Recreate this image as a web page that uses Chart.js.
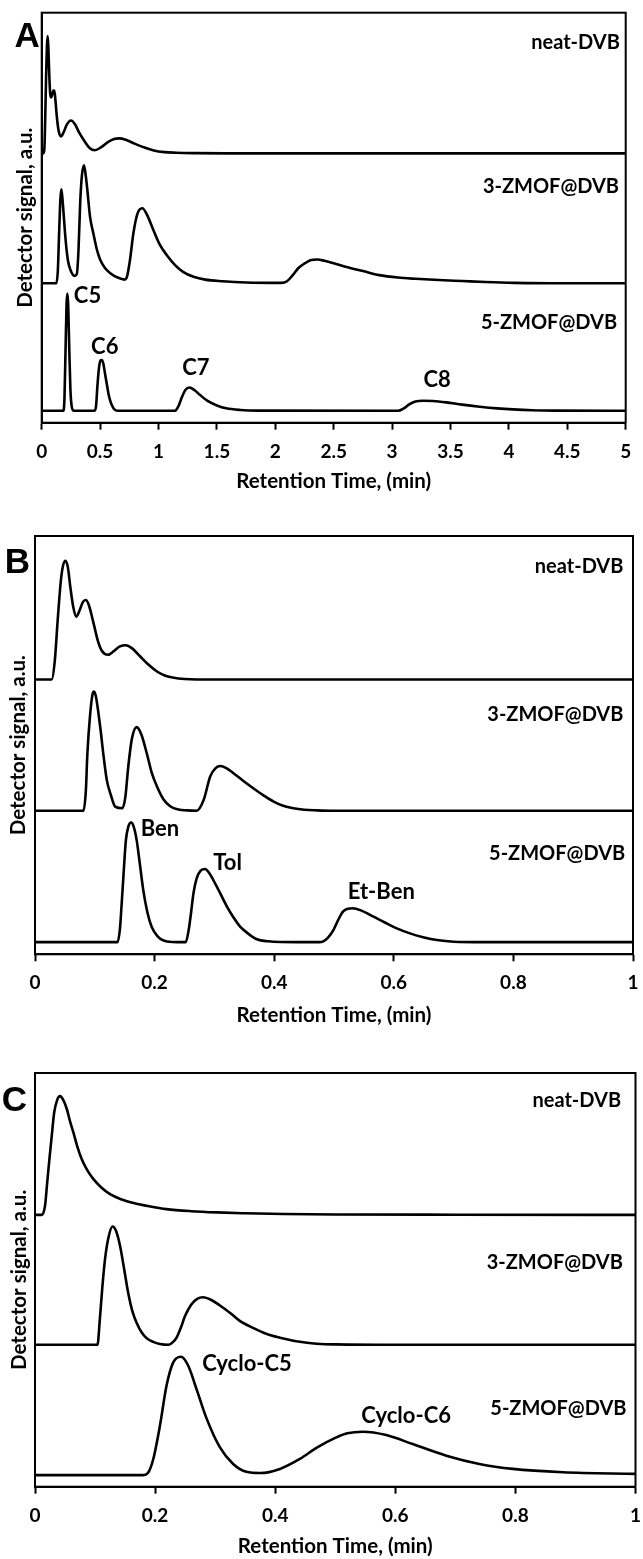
<!DOCTYPE html>
<html><head><meta charset="utf-8">
<script src="https://cdn.jsdelivr.net/npm/chart.js@4.4.1/dist/chart.umd.min.js"></script>
<style>
html,body{margin:0;padding:0;background:#fff;}
body{width:643px;height:1559px;position:relative;overflow:hidden;}
canvas{position:absolute;left:0;}
</style></head><body>
<canvas id="cA" width="643" height="520" style="top:0px;width:643px;height:520px"></canvas>
<canvas id="cB" width="643" height="520" style="top:520px;width:643px;height:520px"></canvas>
<canvas id="cC" width="643" height="519" style="top:1040px;width:643px;height:519px"></canvas>
<script>
// ---------- DATA (y in stacked arbitrary units, axis 0..10) ----------
const seriesNames = ['neat-DVB', '3-ZMOF@DVB', '5-ZMOF@DVB'];

// Panel A: n-alkanes, 0-5 min
const aTicks = [0, 0.5, 1, 1.5, 2, 2.5, 3, 3.5, 4, 4.5, 5];
const aTickLabels = ['0', '0.5', '1', '1.5', '2', '2.5', '3', '3.5', '4', '4.5', '5'];
const aPeakNames = ['C5', 'C6', 'C7', 'C8'];
const aNeatTime = [0, 0.012, 0.022, 0.03, 0.038, 0.045, 0.051, 0.057, 0.064, 0.072, 0.08, 0.09, 0.1, 0.108, 0.118, 0.13, 0.145, 0.165, 0.19, 0.215, 0.25, 0.285, 0.32, 0.37, 0.41, 0.455, 0.51, 0.57, 0.62, 0.665, 0.72, 0.8, 0.88, 0.96, 1.05, 1.15, 1.3, 1.6, 2.5, 5];
const aNeatSignal = [6.57, 6.57, 6.65, 7.4, 8.5, 9.2, 9.43, 9.15, 8.55, 8.05, 7.93, 8.0, 8.1, 8.1, 7.85, 7.45, 7.12, 6.98, 7.1, 7.27, 7.37, 7.28, 7.08, 6.85, 6.7, 6.645, 6.72, 6.85, 6.92, 6.935, 6.9, 6.8, 6.71, 6.64, 6.6, 6.585, 6.575, 6.57, 6.57, 6.57];
const a3Time = [0, 0.125, 0.138, 0.15, 0.16, 0.168, 0.178, 0.19, 0.205, 0.225, 0.25, 0.28, 0.3, 0.315, 0.33, 0.345, 0.362, 0.376, 0.39, 0.414, 0.442, 0.47, 0.5, 0.54, 0.59, 0.65, 0.71, 0.73, 0.755, 0.785, 0.82, 0.862, 0.9, 0.956, 1.01, 1.07, 1.14, 1.21, 1.3, 1.4, 1.55, 1.75, 2.05, 2.1, 2.155, 2.2, 2.255, 2.3, 2.36, 2.42, 2.5, 2.61, 2.75, 2.89, 3.05, 3.2, 3.4, 3.6, 3.8, 4.05, 4.5, 5];
const a3Signal = [3.40, 3.40, 3.7, 4.7, 5.45, 5.69, 5.45, 5.0, 4.45, 3.95, 3.7, 3.58, 3.62, 4.2, 5.4, 6.05, 6.28, 6.05, 5.7, 5.02, 4.62, 4.25, 3.98, 3.78, 3.64, 3.54, 3.49, 3.56, 3.95, 4.62, 5.1, 5.23, 5.08, 4.70, 4.35, 4.09, 3.85, 3.68, 3.56, 3.49, 3.45, 3.42, 3.41, 3.45, 3.62, 3.78, 3.89, 3.96, 3.98, 3.95, 3.89, 3.80, 3.70, 3.60, 3.54, 3.51, 3.48, 3.455, 3.43, 3.41, 3.40, 3.40];
const a5Time = [0, 0.185, 0.195, 0.205, 0.213, 0.22, 0.227, 0.236, 0.246, 0.258, 0.275, 0.45, 0.465, 0.477, 0.491, 0.504, 0.514, 0.527, 0.542, 0.557, 0.571, 0.585, 0.6, 0.62, 0.65, 1.14, 1.17, 1.2, 1.23, 1.264, 1.31, 1.356, 1.42, 1.5, 1.58, 1.7, 1.85, 3.05, 3.1, 3.15, 3.2, 3.265, 3.35, 3.464, 3.6, 3.75, 3.9, 4.035, 4.2, 4.4, 5];
const a5Signal = [0.29, 0.29, 0.6, 1.9, 2.9, 3.15, 2.85, 1.8, 0.8, 0.38, 0.29, 0.29, 0.4, 0.9, 1.35, 1.52, 1.53, 1.45, 1.2, 0.95, 0.72, 0.55, 0.43, 0.33, 0.29, 0.29, 0.4, 0.62, 0.8, 0.86, 0.79, 0.675, 0.53, 0.42, 0.35, 0.31, 0.295, 0.29, 0.35, 0.455, 0.52, 0.537, 0.53, 0.496, 0.44, 0.39, 0.35, 0.325, 0.305, 0.295, 0.29];

// Panel B: aromatics, 0-1 min
const bTicks = [0, 0.2, 0.4, 0.6, 0.8, 1];
const bTickLabels = ['0', '0.2', '0.4', '0.6', '0.8', '1'];
const bPeakNames = ['Ben', 'Tol', 'Et-Ben'];
const bNeatTime = [0, 0.028, 0.033, 0.038, 0.043, 0.047, 0.051, 0.055, 0.059, 0.064, 0.069, 0.074, 0.08, 0.085, 0.09, 0.098, 0.105, 0.112, 0.122, 0.132, 0.142, 0.152, 0.162, 0.176, 0.19, 0.204, 0.218, 0.232, 0.25, 0.27, 1];
const bNeatSignal = [6.57, 6.57, 7.0, 8.0, 8.9, 9.3, 9.41, 9.25, 8.79, 8.3, 8.07, 8.2, 8.42, 8.47, 8.35, 7.91, 7.5, 7.25, 7.16, 7.25, 7.36, 7.39, 7.32, 7.12, 6.92, 6.76, 6.66, 6.61, 6.58, 6.57, 6.57];
const b3Time = [0, 0.081, 0.085, 0.0876, 0.092, 0.096, 0.0987, 0.102, 0.109, 0.115, 0.12, 0.127, 0.134, 0.146, 0.151, 0.156, 0.162, 0.17, 0.178, 0.187, 0.195, 0.204, 0.215, 0.226, 0.24, 0.254, 0.27, 0.282, 0.293, 0.302, 0.31, 0.32, 0.332, 0.348, 0.365, 0.382, 0.399, 0.415, 0.432, 0.45, 0.471, 0.5, 1];
const b3Signal = [3.43, 3.43, 3.9, 4.8, 5.7, 6.2, 6.28, 6.15, 5.44, 4.7, 4.17, 3.8, 3.53, 3.49, 3.75, 4.49, 5.15, 5.43, 5.25, 4.80, 4.35, 4.01, 3.7, 3.54, 3.46, 3.44, 3.43, 3.69, 4.25, 4.45, 4.50, 4.45, 4.33, 4.15, 3.97, 3.8, 3.65, 3.55, 3.49, 3.455, 3.44, 3.43, 3.43];
const b5Time = [0, 0.138, 0.142, 0.145, 0.148, 0.152, 0.156, 0.161, 0.165, 0.17, 0.175, 0.181, 0.188, 0.195, 0.205, 0.215, 0.23, 0.252, 0.257, 0.261, 0.265, 0.27, 0.277, 0.2845, 0.291, 0.298, 0.31, 0.321, 0.332, 0.343, 0.356, 0.371, 0.39, 0.41, 0.475, 0.482, 0.49, 0.499, 0.507, 0.515, 0.523, 0.531, 0.545, 0.566, 0.585, 0.605, 0.627, 0.649, 0.672, 0.7, 0.75, 1];
const b5Signal = [0.29, 0.29, 0.6, 1.22, 1.9, 2.73, 3.05, 3.15, 3.05, 2.73, 2.2, 1.54, 1.0, 0.66, 0.43, 0.33, 0.295, 0.29, 0.58, 1.0, 1.46, 1.8, 2.0, 2.04, 1.95, 1.78, 1.45, 1.14, 0.88, 0.66, 0.5, 0.36, 0.31, 0.295, 0.29, 0.31, 0.4, 0.58, 0.82, 1.02, 1.09, 1.10, 1.05, 0.90, 0.76, 0.62, 0.50, 0.41, 0.34, 0.30, 0.29, 0.29];

// Panel C: cycloalkanes, 0-1 min
const cTicks = [0, 0.2, 0.4, 0.6, 0.8, 1];
const cTickLabels = ['0', '0.2', '0.4', '0.6', '0.8', '1'];
const cPeakNames = ['Cyclo-C5', 'Cyclo-C6'];
const cNeatTime = [0, 0.011, 0.0167, 0.02, 0.024, 0.028, 0.032, 0.037, 0.0416, 0.047, 0.053, 0.058, 0.0638, 0.0705, 0.0777, 0.087, 0.097, 0.11, 0.125, 0.143, 0.164, 0.19, 0.219, 0.26, 0.303, 0.35, 0.414, 0.5, 0.7, 1];
const cNeatSignal = [6.57, 6.57, 6.79, 7.3, 7.92, 8.5, 9.05, 9.35, 9.44, 9.35, 9.13, 8.85, 8.57, 8.22, 7.92, 7.65, 7.44, 7.24, 7.07, 6.95, 6.86, 6.78, 6.71, 6.66, 6.63, 6.61, 6.59, 6.58, 6.575, 6.57];
const c3Time = [0, 0.104, 0.108, 0.112, 0.1166, 0.122, 0.129, 0.135, 0.1415, 0.148, 0.155, 0.162, 0.169, 0.178, 0.186, 0.197, 0.208, 0.222, 0.23, 0.236, 0.243, 0.25, 0.26, 0.27, 0.28, 0.293, 0.308, 0.325, 0.341, 0.363, 0.386, 0.408, 0.43, 0.453, 0.475, 0.5, 0.6, 1];
const c3Signal = [3.43, 3.43, 4.05, 4.8, 5.5, 6.0, 6.29, 6.18, 5.83, 5.3, 4.7, 4.25, 3.97, 3.72, 3.59, 3.5, 3.45, 3.43, 3.5, 3.61, 3.85, 4.13, 4.4, 4.54, 4.58, 4.52, 4.38, 4.2, 4.01, 3.84, 3.69, 3.6, 3.53, 3.48, 3.45, 3.44, 3.43, 3.43];
const c5Time = [0, 0.18, 0.188, 0.197, 0.208, 0.219, 0.23, 0.243, 0.255, 0.269, 0.286, 0.308, 0.33, 0.352, 0.375, 0.408, 0.441, 0.47, 0.5, 0.52, 0.546, 0.585, 0.629, 0.685, 0.74, 0.796, 0.879, 1];
const c5Signal = [0.28, 0.28, 0.33, 0.67, 1.47, 2.44, 3.0, 3.14, 2.93, 2.36, 1.64, 0.95, 0.55, 0.36, 0.33, 0.43, 0.67, 0.95, 1.18, 1.29, 1.33, 1.25, 1.03, 0.75, 0.55, 0.43, 0.35, 0.31];

// ---------- RENDERING ----------
const FONT = 'Lato, "Open Sans", "DejaVu Sans", sans-serif';
const INK = '#000';

function textPlugin(cfg) {
  return {
    id: 'panelText',
    afterDatasetsDraw(chart) {
      const {ctx, chartArea: ca, scales} = chart;
      const xs = scales.x, ys = scales.y;
      ctx.save();
      ctx.strokeStyle = INK;
      ctx.lineWidth = 2;
      ctx.strokeRect(ca.left, ca.top, ca.right - ca.left, ca.bottom - ca.top);
      ctx.fillStyle = INK;
      ctx.textBaseline = 'middle';
      cfg.labels.forEach(l => {
        ctx.font = l.font;
        ctx.textAlign = l.align;
        ctx.fillText(l.text, xs.getPixelForValue(l.x), ys.getPixelForValue(l.y));
      });
      ctx.font = 'bold 35px "Liberation Sans", Arial, sans-serif';
      ctx.textAlign = 'right';
      ctx.fillText(cfg.letter, ca.left + cfg.letterDx, ca.top + cfg.letterDy);
      ctx.restore();
    }
  };
}

function makePanel(id, p) {
  const datasets = p.series.map(s => ({
    label: s.name,
    data: s.t.map((t, i) => ({x: t, y: s.v[i]})),
    borderColor: INK,
    borderWidth: 2.6,
    pointRadius: 0,
    fill: false,
    cubicInterpolationMode: 'monotone'
  }));
  return new Chart(document.getElementById(id), {
    type: 'line',
    data: {datasets},
    options: {
      responsive: false,
      animation: false,
      devicePixelRatio: 1,
      layout: {padding: p.pad},
      plugins: {legend: {display: false}, tooltip: {enabled: false}},
      scales: {
        x: {
          type: 'linear', min: 0, max: p.xMax,
          afterBuildTicks: s => { s.ticks = p.ticks.map(v => ({value: v})); },
          ticks: {
            color: INK, padding: p.tickPad, maxRotation: 0, autoSkip: false,
            font: {family: FONT, size: 19, weight: 'bold'},
            callback: (v, i) => p.tickLabels[i]
          },
          grid: {display: true, drawOnChartArea: false, drawTicks: true, tickLength: 7, tickWidth: 2, tickColor: INK},
          border: {display: true, color: INK, width: 2},
          title: {display: true, text: 'Retention Time, (min)', color: INK,
                  font: {family: FONT, size: 20.5, weight: 'bold'}, padding: {top: 0, bottom: p.xTitlePad}},
          afterFit: s => { s.height = p.xH; s.paddingLeft = 0; s.paddingRight = 0; }
        },
        y: {
          type: 'linear', min: 0, max: 10,
          ticks: {display: false},
          grid: {display: false},
          border: {display: true, color: INK, width: 2},
          title: {display: true, text: 'Detector signal, a.u.', color: INK,
                  font: {family: FONT, size: 20.5, weight: 'bold'}, padding: {top: p.yTitlePad, bottom: 0}},
          afterFit: s => { s.width = p.yW; s.paddingTop = 0; s.paddingBottom = 0; }
        }
      }
    },
    plugins: [textPlugin(p)]
  });
}

const SER = 'bold 20px ' + FONT;
const PK = 'bold 22px ' + FONT;

makePanel('cA', {
  xMax: 5, ticks: aTicks, tickLabels: aTickLabels,
  pad: {left: 0, right: 17.3, top: 12.7, bottom: 17.3}, yW: 41.7, xH: 80,
  tickPad: 10.9, xTitlePad: 8.7, yTitlePad: 12.7,
  series: [
    {name: seriesNames[0], t: aNeatTime, v: aNeatSignal},
    {name: seriesNames[1], t: a3Time, v: a3Signal},
    {name: seriesNames[2], t: a5Time, v: a5Signal}
  ],
  letter: 'A', letterDx: -2, letterDy: 25,
  labels: [
    {text: seriesNames[0], x: 4.95, y: 9.27, align: 'right', font: SER},
    {text: seriesNames[1], x: 4.943, y: 5.76, align: 'right', font: SER},
    {text: seriesNames[2], x: 4.926, y: 2.44, align: 'right', font: SER},
    {text: aPeakNames[0], x: 0.392, y: 3.09, align: 'center', font: PK},
    {text: aPeakNames[1], x: 0.54, y: 1.85, align: 'center', font: PK},
    {text: aPeakNames[2], x: 1.32, y: 1.33, align: 'center', font: PK},
    {text: aPeakNames[3], x: 3.386, y: 1.04, align: 'center', font: PK}
  ]
});

makePanel('cB', {
  xMax: 1, ticks: bTicks, tickLabels: bTickLabels,
  pad: {left: 0, right: 10, top: 16, bottom: 5.7}, yW: 35, xH: 80,
  tickPad: 10.6, xTitlePad: 7, yTitlePad: 5.7,
  series: [
    {name: seriesNames[0], t: bNeatTime, v: bNeatSignal},
    {name: seriesNames[1], t: b3Time, v: b3Signal},
    {name: seriesNames[2], t: b5Time, v: b5Signal}
  ],
  letter: 'B', letterDx: -5, letterDy: 27,
  labels: [
    {text: seriesNames[0], x: 0.984, y: 9.27, align: 'right', font: SER},
    {text: seriesNames[1], x: 0.984, y: 5.74, align: 'right', font: SER},
    {text: seriesNames[2], x: 0.987, y: 2.41, align: 'right', font: SER},
    {text: bPeakNames[0], x: 0.209, y: 2.99, align: 'center', font: PK},
    {text: bPeakNames[1], x: 0.322, y: 2.18, align: 'center', font: PK},
    {text: bPeakNames[2], x: 0.579, y: 1.50, align: 'center', font: PK}
  ]
});

makePanel('cC', {
  xMax: 1, ticks: cTicks, tickLabels: cTickLabels,
  pad: {left: 0, right: 7.5, top: 33, bottom: 0}, yW: 35, xH: 72.3,
  tickPad: 10.9, xTitlePad: 0, yTitlePad: 6.7,
  series: [
    {name: seriesNames[0], t: cNeatTime, v: cNeatSignal},
    {name: seriesNames[1], t: c3Time, v: c3Signal},
    {name: seriesNames[2], t: c5Time, v: c5Signal}
  ],
  letter: 'C', letterDx: -8, letterDy: 28.5,
  labels: [
    {text: seriesNames[0], x: 0.976, y: 9.33, align: 'right', font: SER},
    {text: seriesNames[1], x: 0.979, y: 5.42, align: 'right', font: SER},
    {text: seriesNames[2], x: 0.985, y: 1.88, align: 'right', font: SER},
    {text: cPeakNames[0], x: 0.353, y: 2.97, align: 'center', font: PK},
    {text: cPeakNames[1], x: 0.618, y: 1.72, align: 'center', font: PK}
  ]
});
</script>
</body></html>
